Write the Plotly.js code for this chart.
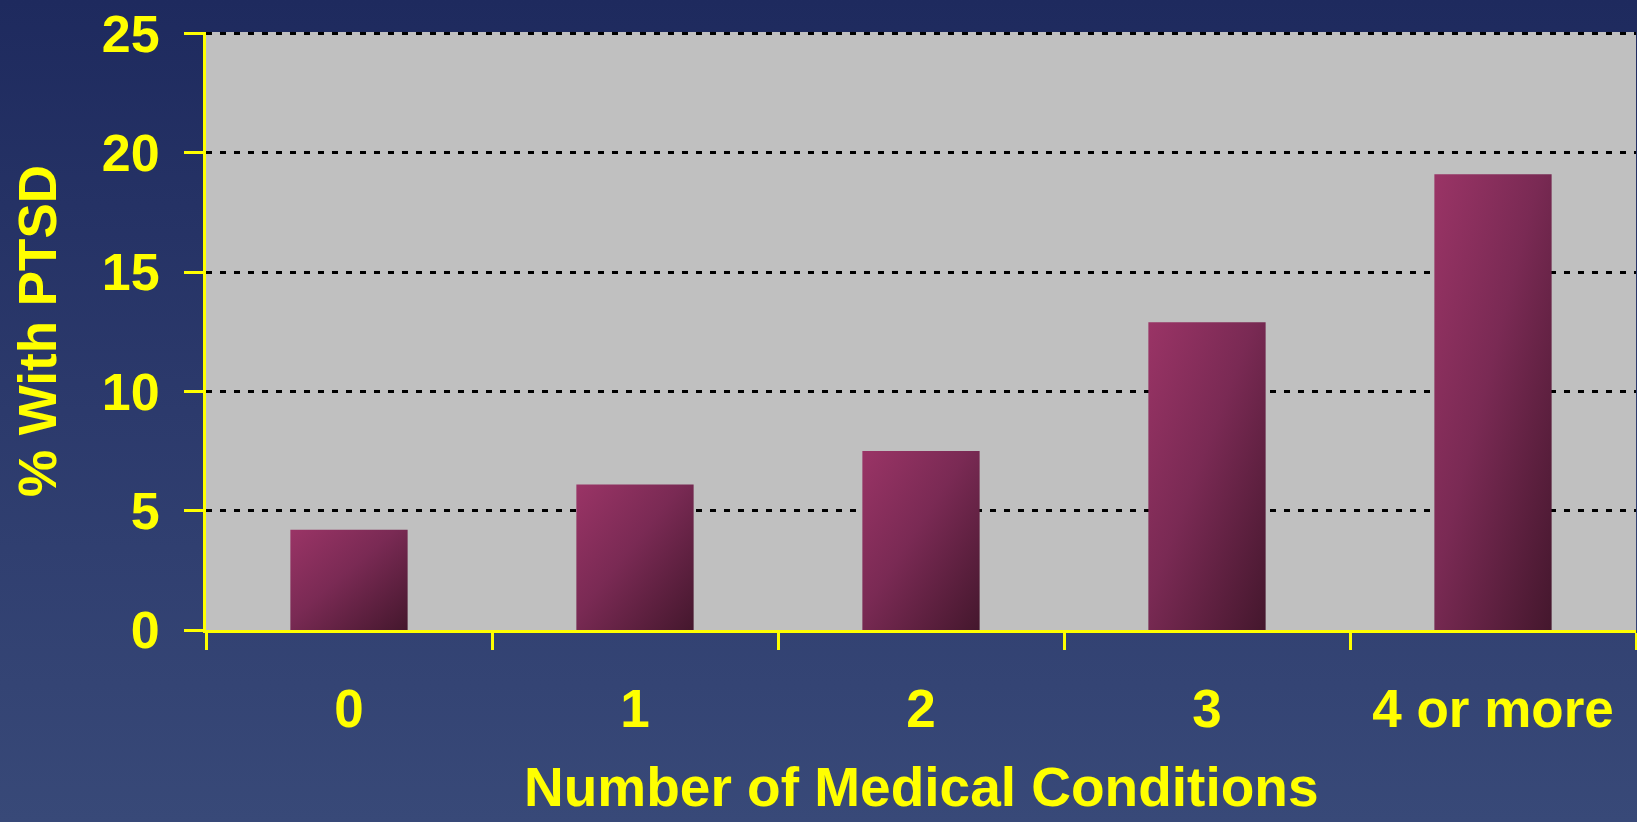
<!DOCTYPE html>
<html>
<head>
<meta charset="utf-8">
<script src="https://cdn.plot.ly/plotly-3.0.1.min.js"></script>
<style>
html, body { margin:0; padding:0; width:1637px; height:822px; overflow:hidden;
  background: linear-gradient(180deg, #1e2a5e 0%, #2c3a6c 50%, #384978 100%); }
#chart { width:1637px; height:822px; }
</style>
</head>
<body>
<div id="chart"></div>
<script>
const categories = ["0", "1", "2", "3", "4 or more"];
const ptsdPercent = [4.2, 6.1, 7.5, 12.9, 19.1];
const yTickValues = [0, 5, 10, 15, 20, 25];
const xTitle = "Number of Medical Conditions";
const yTitle = "% With PTSD";

const yellow = "#ffff00";
const fontFamily = "'Liberation Sans', Arial, sans-serif";

const trace = {
  type: "bar",
  x: categories,
  y: ptsdPercent,
  marker: { color: "#762850", line: { width: 0 } },
  hoverinfo: "x+y"
};

const layout = {
  width: 1637, height: 822,
  margin: { l: 206, r: 1, t: 32, b: 192 },
  paper_bgcolor: "rgba(0,0,0,0)",
  plot_bgcolor: "#c0c0c0",
  bargap: 0.59,
  showlegend: false,
  font: { family: fontFamily, color: yellow, size: 52, weight: 700 },
  xaxis: {
    type: "category",
    tickson: "boundaries",
    ticks: "outside", ticklen: 17, tickwidth: 3, tickcolor: yellow,
    showline: true, linecolor: yellow, linewidth: 3,
    showgrid: false,
    ticklabelstandoff: 30,
    tickfont: { family: fontFamily, size: 53, color: yellow, weight: 700 }
  },
  yaxis: {
    range: [0, 25.06],
    tickvals: yTickValues,
    ticks: "outside", ticklen: 19, tickwidth: 3, tickcolor: yellow,
    showline: true, linecolor: yellow, linewidth: 3,
    showgrid: true, gridcolor: "#000000", gridwidth: 3, griddash: "6px,8px",
    zeroline: false,
    ticklabelstandoff: 14,
    tickfont: { family: fontFamily, size: 52, color: yellow, weight: 700 },
    title: { text: yTitle, standoff: 29,
      font: { family: fontFamily, size: 53, color: yellow, weight: 700 } }
  },
  annotations: [{
    text: xTitle, xref: "paper", yref: "paper",
    x: 0.5, y: -0.262, xanchor: "center", yanchor: "middle",
    showarrow: false,
    font: { family: fontFamily, size: 55, color: yellow, weight: 700 }
  }]
};

Plotly.newPlot("chart", [trace], layout, { displayModeBar: false, staticPlot: true }).then(function (gd) {
  // diagonal shading on each bar (light top-left to dark bottom-right)
  const svg = gd.querySelector(".main-svg");
  const ns = "http://www.w3.org/2000/svg";
  let defs = svg.querySelector("defs");
  if (!defs) { defs = document.createElementNS(ns, "defs"); svg.insertBefore(defs, svg.firstChild); }
  const grad = document.createElementNS(ns, "linearGradient");
  grad.setAttribute("id", "barShade");
  grad.setAttribute("x1", "0"); grad.setAttribute("y1", "0");
  grad.setAttribute("x2", "1"); grad.setAttribute("y2", "1");
  [["0", "#9a3466"], ["0.45", "#7a2a54"], ["1", "#44172d"]].forEach(function (s) {
    const st = document.createElementNS(ns, "stop");
    st.setAttribute("offset", s[0]); st.setAttribute("stop-color", s[1]);
    grad.appendChild(st);
  });
  defs.appendChild(grad);
  gd.querySelectorAll(".barlayer .point path").forEach(function (p) {
    p.style.fill = "url(#barShade)";
  });
});
</script>
</body>
</html>
